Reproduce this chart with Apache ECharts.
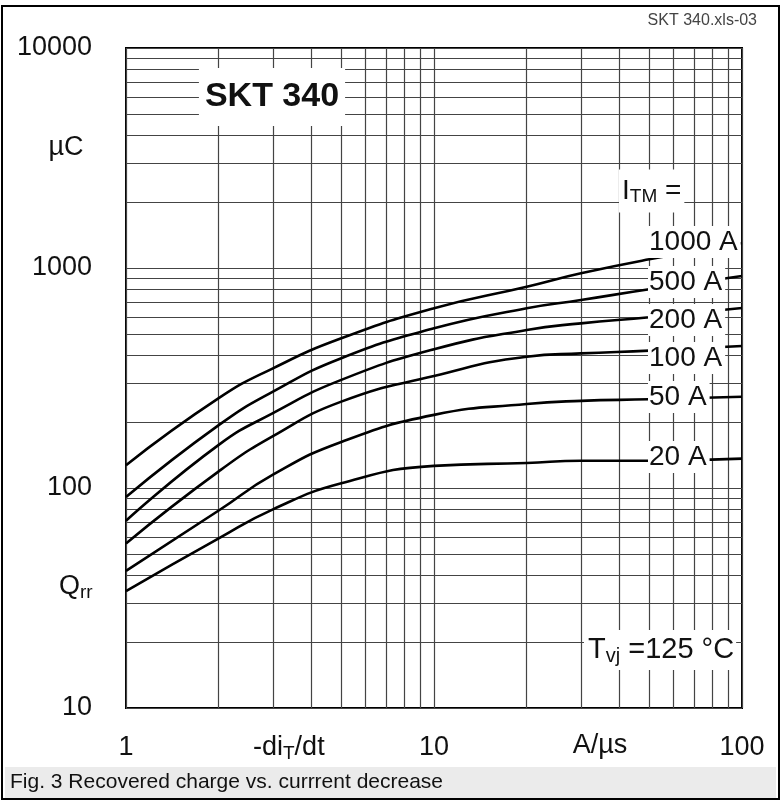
<!DOCTYPE html>
<html><head><meta charset="utf-8">
<script src="https://cdn.jsdelivr.net/npm/echarts@6/dist/echarts.min.js"></script>
<style>html,body{margin:0;padding:0;background:#fff;}#c{width:783px;height:803px;}</style>
</head><body><div id="c"></div>
<script>
// ---- data ----
const xValues = [1, 2, 3, 5, 10, 20, 30, 50, 100];           // -di_T/dt, A/µs
const q1000A = [127, 256, 350, 479, 656, 822, 946, 1095, 1300]; // Qrr, µC
const q500A  = [91, 193, 274, 389, 532, 656, 715, 800, 920];
const q200A  = [71, 157, 219, 310, 427, 523, 560, 597, 658];
const q100A  = [56, 119, 172, 247, 323, 395, 409, 421, 442];
const q50A   = [42, 79, 115, 162, 215, 241, 249, 253, 260];
const q20A   = [34, 59, 80, 105, 126, 130, 133, 133, 136];
const seriesNames = ['1000 A', '500 A', '200 A', '100 A', '50 A', '20 A'];
const xTickLabels = ['1', '10', '100'];
const yTickLabels = ['10', '100', '1000', '10000'];
const xMinorGrid = [2,3,4,5,6,7,8,9,20,30,40,50,60,70,80,90];
const yMinorGrid = [20,30,40,50,60,70,80,90,200,300,400,500,600,700,800,900,2000,3000,4000,5000,6000,7000,8000,9000];

const FONT = "'Liberation Sans', Arial, sans-serif";
const GRIDC = '#444';
const allSeries = [q1000A, q500A, q200A, q100A, q50A, q20A];

const chart = echarts.init(document.getElementById('c'), null, {renderer: 'canvas'});

const curveSeries = allSeries.map((arr, i) => ({
  name: seriesNames[i],
  type: 'line',
  data: xValues.map((x, j) => [x, arr[j]]),
  smooth: 0.5,
  symbol: 'none',
  z: 5,
  lineStyle: {color: '#000', width: 2.6},
  silent: true
}));

const gridSeries = {
  type: 'line',
  data: [],
  z: 1,
  silent: true,
  markLine: {
    silent: true,
    symbol: 'none',
    label: {show: false},
    animation: false,
    lineStyle: {color: GRIDC, width: 1.2, type: 'solid'},
    data: xMinorGrid.map(v => ({xAxis: v})).concat(yMinorGrid.map(v => ({yAxis: v})))
  }
};

function boxText(x, y, text, opts) {
  return Object.assign({
    type: 'text', x: x, y: y, z: 100, silent: true,
    style: Object.assign({
      text: text, font: '28px ' + FONT, fill: '#111',
      align: 'left', verticalAlign: 'middle',
      backgroundColor: '#fff', padding: [2, 3, 2, 1]
    }, opts || {})
  });
}

const labelY = [242, 282, 320, 358, 397, 457];

const option = {
  animation: false,
  backgroundColor: '#fff',
  grid: {left: 126, right: 41, top: 48, bottom: 95, show: true, borderColor: '#000', borderWidth: 2, backgroundColor: 'transparent'},
  xAxis: {
    type: 'log', logBase: 10, min: 1, max: 100,
    axisLine: {show: false}, axisTick: {show: false},
    splitLine: {show: true, lineStyle: {color: GRIDC, width: 1.2}},
    axisLabel: {
      margin: 26, fontSize: 27, fontFamily: FONT, color: '#111',
      formatter: v => xTickLabels[Math.round(Math.log10(v))]
    }
  },
  yAxis: {
    type: 'log', logBase: 10, min: 10, max: 10000,
    axisLine: {show: false}, axisTick: {show: false},
    splitLine: {show: true, lineStyle: {color: GRIDC, width: 1.2}},
    axisLabel: {
      margin: 34, fontSize: 27, fontFamily: FONT, color: '#111',
      formatter: v => yTickLabels[Math.round(Math.log10(v)) - 1]
    }
  },
  series: [gridSeries].concat(curveSeries),
  graphic: [
    {type: 'rect', z: 0, silent: true, shape: {x: 2, y: 6, width: 777, height: 793}, style: {fill: 'none', stroke: '#000', lineWidth: 2}},
    {type: 'rect', z: 1, silent: true, shape: {x: 5, y: 767, width: 771, height: 31}, style: {fill: '#ebebeb'}},
    {type: 'text', z: 2, silent: true, x: 10, y: 782, style: {text: 'Fig. 3 Recovered charge vs. currrent decrease', font: '21px ' + FONT, fill: '#111', verticalAlign: 'middle'}},
    {type: 'text', z: 2, silent: true, x: 757, y: 21, style: {text: 'SKT 340.xls-03', font: '16px ' + FONT, fill: '#444', align: 'right', verticalAlign: 'middle'}},
    boxText(272, 97, 'SKT 340', {font: 'bold 34px ' + FONT, align: 'center', padding: [12, 6, 12, 6]}),
    {type: 'text', z: 100, silent: true, x: 619, y: 191, style: {
      rich: {a: {font: '28px ' + FONT, fill: '#111'}, s: {font: '19px ' + FONT, fill: '#111', padding: [12, 0, 0, 0]}},
      text: '{a|I}{s|TM}{a| =}', verticalAlign: 'middle', align: 'left', backgroundColor: '#fff', padding: [6, 3, 6, 3]}},
    ...seriesNames.map((n, i) => boxText(648, labelY[i], n)),
    {type: 'text', z: 100, silent: true, x: 584, y: 650, style: {
      rich: {a: {font: '29px ' + FONT, fill: '#111'}, s: {font: '20px ' + FONT, fill: '#111', padding: [12, 0, 0, 0]}},
      text: '{a|T}{s|vj}{a| =125 °C}', verticalAlign: 'middle', align: 'left', backgroundColor: '#fff', padding: [4, 2, 4, 4]}},
    {type: 'text', z: 2, silent: true, x: 66, y: 148, style: {text: 'µC', font: '27px ' + FONT, fill: '#111', align: 'center', verticalAlign: 'middle'}},
    {type: 'text', z: 2, silent: true, x: 59, y: 587, style: {
      rich: {a: {font: '27px ' + FONT, fill: '#111'}, s: {font: '19px ' + FONT, fill: '#111', padding: [12, 0, 0, 0]}},
      text: '{a|Q}{s|rr}', verticalAlign: 'middle', align: 'left'}},
    {type: 'text', z: 2, silent: true, x: 253, y: 748, style: {
      rich: {a: {font: '27px ' + FONT, fill: '#111'}, s: {font: '19px ' + FONT, fill: '#111', padding: [12, 0, 0, 0]}},
      text: '{a|-di}{s|T}{a|/dt}', verticalAlign: 'middle', align: 'left'}},
    {type: 'text', z: 2, silent: true, x: 600, y: 746, style: {text: 'A/µs', font: '27px ' + FONT, fill: '#111', align: 'center', verticalAlign: 'middle'}}
  ]
};
chart.setOption(option);
</script>
</body></html>
